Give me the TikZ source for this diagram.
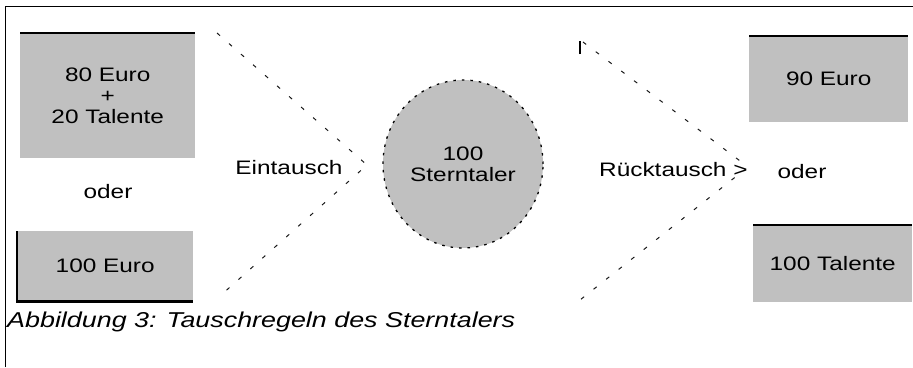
\documentclass[tikz,border=0pt]{standalone}
\usepackage{fontspec}
\setmainfont{Liberation Sans}
\newfontfamily\labfont[FakeStretch=1.25]{Liberation Sans}
\newfontfamily\capfont[FakeStretch=1.25]{Liberation Sans}
\usetikzlibrary{shapes.geometric}
\definecolor{boxgray}{RGB}{192,192,192}
\tikzset{
  lab/.style={font=\labfont\fontsize{19.5}{21}\selectfont, inner sep=0pt, align=center},
  panel/.style={fill=boxgray, draw=none, inner sep=0pt},
  edge/.style={line width=2.2pt, black},
  flow/.style={line width=1pt, dash pattern=on 4pt off 12pt, black!90},
}
\begin{document}
\begin{tikzpicture}[x=1pt,y=-1pt]
  \useasboundingbox (0,0) rectangle (913,367);
  % outer frame (top and left edges only)
  \draw[line width=1pt] (5,367) -- (5,6) -- (913,6);

  % left side: what is handed in
  \node[panel, minimum width=175pt, minimum height=125pt, anchor=north west] (in1) at (20,33) {};
  \draw[edge] (in1.north west) -- (in1.north east);
  \node[lab] (in1t) at (in1.center) {80 Euro\\+\\20 Talente};
  \node[lab] (or1) at (108,192) {oder};
  \node[panel, minimum width=176pt, minimum height=70pt, anchor=north west] (in2) at (17,231) {};
  \draw[edge] (in2.north west) -- (in2.south west) -- (in2.south east);
  \node[lab] (in2t) at (in2.center) {100 Euro};

  % centre: the Sterntaler
  \node[ellipse, fill=boxgray, draw=black, line width=1.3pt, dash pattern=on 2.5pt off 6pt,
        minimum width=160pt, minimum height=168pt, inner sep=0pt] (st) at (463,164) {};
  \node[lab] (stt) at (st.center) {100\\Sterntaler};

  % right side: what is paid back
  \node[panel, minimum width=159pt, minimum height=86pt, anchor=north west] (out1) at (749,36) {};
  \draw[edge] (out1.north west) -- (out1.north east);
  \node[lab] (out1t) at (out1.center) {90 Euro};
  \node[lab] (or2) at (802,172) {oder};
  \node[panel, minimum width=159pt, minimum height=77pt, anchor=north west] (out2) at (753,225) {};
  \draw[edge] (out2.north west) -- (out2.north east);
  \node[lab] (out2t) at (out2.center) {100 Talente};

  % exchange chevrons
  \coordinate (la) at (217,33);
  \coordinate (lp) at (367,165);
  \coordinate (lb) at (220,296);
  \draw[flow] (la) -- (lp) -- (lb);
  \node[lab] (ein) at (289,168) {Eintausch};

  \coordinate (ra) at (583,42);
  \coordinate (rp) at (748,167);
  \coordinate (rb) at (580,300);
  \coordinate (rt) at (580,54);
  \draw[line width=1.6pt] (rt) -- ++(0,-13);
  \draw[flow] (ra) -- (rp) -- (rb);
  \node[lab, anchor=west, fill=white, inner xsep=1pt] (rueck) at (598,170) {Rücktausch >};

  % caption
  \node[font=\capfont\itshape\fontsize{21.5}{24}\selectfont, anchor=base west, inner sep=0pt] (cap) at (7,327)
    {Abbildung 3: Tauschregeln des Sterntalers};
\end{tikzpicture}
\end{document}
